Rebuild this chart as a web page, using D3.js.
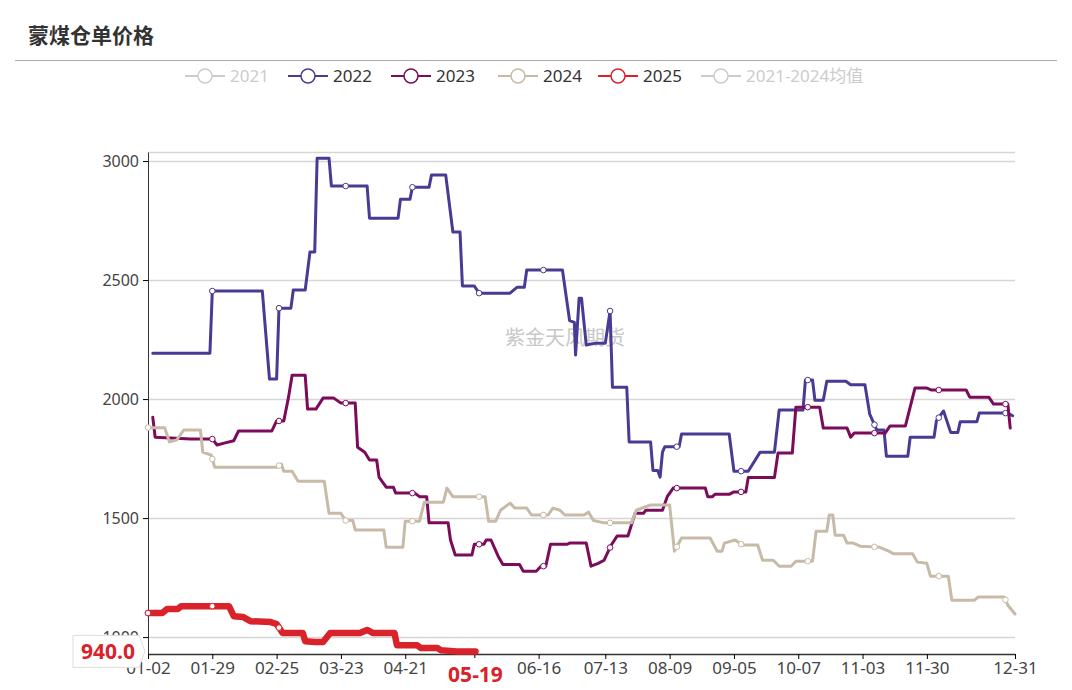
<!DOCTYPE html>
<html><head><meta charset="utf-8">
<script src="https://cdn.jsdelivr.net/npm/d3@7"></script>
<style>body{margin:0;background:#fff;font-family:"Noto Sans","Noto Sans CJK SC",sans-serif}</style>
</head><body><div id="chart"></div>
<script>
// x is a day index along the category axis (0 = 01-02, 364 = 12-31)
const tickIdx = [0, 27, 54, 81, 108, 137, 164, 192, 219, 246, 273, 300, 327, 364];
const tickLabels = ["01-02","01-29","02-25","03-23","04-21","05-19","06-16","07-13","08-09","09-05","10-07","11-03","11-30","12-31"];
const markerIdx = [0, 27, 55, 83, 111, 139, 166, 194, 222, 249, 277, 305, 332, 360];
const yTicks = [1000, 1500, 2000, 2500, 3000];

const s2022 = [[2,2193],[26,2193],[27,2454],[48,2454],[51,2084],[54,2084],[55,2382],[60,2382],[61,2458],[66,2458],[68,2618],[70,2618],[71,3012],[76,3012],[77,2895],[92,2895],[93,2760],[105,2760],[106,2840],[110,2840],[111,2890],[118,2890],[119,2941],[125,2941],[128,2702],[131,2702],[132,2475],[137,2475],[139,2445],[152,2445],[155,2470],[158,2470],[159,2542],[174,2542],[177,2330],[179,2322],[179.5,2185],[181,2424],[182,2424],[184,2227],[188,2235],[192,2235],[194,2370],[195,2050],[201,2050],[202,1820],[211,1820],[212,1700],[214,1700],[215,1672],[216,1777],[217,1800],[223,1800],[224,1853],[244,1853],[246,1697],[252,1697],[257,1777],[263,1777],[265,1954],[275,1954],[276,2080],[279,2080],[280,1995],[283.5,1995],[285,2075],[293,2075],[295,2060],[301,2060],[303,1937],[306,1870],[309,1870],[310,1760],[319,1760],[320,1840],[330,1840],[331,1908],[334,1950],[337,1860],[340,1860],[341,1905],[348,1905],[349,1941],[361,1941],[363,1930]];
const s2023 = [[2,1924],[3,1840],[18,1832],[27,1832],[29,1807],[32,1815],[36,1825],[38,1866],[52,1866],[54,1908],[57,1908],[59,2008],[60.5,2100],[66,2100],[67,1958],[70.5,1958],[73.5,2004],[78,2004],[81,1983],[87,1983],[88,1798],[91,1777],[93,1744],[96,1744],[97,1672],[100,1630],[103,1630],[104,1605],[112,1605],[114,1590],[117,1590],[118,1480],[126,1480],[127,1408],[129,1345],[136,1345],[137,1390],[141,1390],[142,1408],[144,1408],[147,1340],[149,1305],[156,1305],[157.5,1277],[163,1277],[165,1298],[167,1298],[169,1390],[176,1390],[177,1395],[184,1395],[186,1298],[189,1310],[191.5,1323],[194.5,1387],[197,1425],[201.5,1425],[204.5,1520],[208,1520],[209,1533],[216,1533],[218,1590],[220.5,1626],[234,1626],[235,1590],[237,1590],[238,1600],[244,1600],[246,1610],[251,1610],[252,1670],[263,1670],[264.5,1773],[270.5,1773],[272,1966],[282,1966],[283.5,1878],[293.5,1878],[295,1840],[296.5,1857],[309.5,1857],[311.5,1887],[318,1887],[322,2046],[327,2046],[329,2038],[343.5,2038],[345,2008],[353,2008],[355,1979],[361,1979],[362,1878]];
const s2024 = [[0,1880],[7,1880],[9,1820],[12,1828],[15,1870],[22,1870],[23,1777],[26.5,1765],[28,1714],[54,1714],[56,1727],[57,1697],[60.5,1697],[63,1655],[74,1655],[76,1520],[81,1520],[83,1490],[86,1490],[87,1450],[99,1450],[100,1378],[107,1378],[108,1487],[114,1487],[116,1567],[124,1567],[125.5,1626],[128,1590],[141.5,1590],[143,1487],[146,1487],[148,1533],[152,1563],[154,1542],[159,1542],[161,1513],[168,1513],[170,1542],[173,1533],[175,1513],[183,1513],[185,1525],[187,1490],[191.5,1480],[203,1480],[205,1533],[211,1555],[219,1555],[221,1361],[224,1416],[236,1416],[239,1361],[241,1361],[242,1395],[246.5,1408],[249.5,1387],[256,1387],[258,1323],[262.5,1323],[265,1298],[270,1298],[272,1319],[279,1319],[280.5,1445],[285,1445],[286,1513],[287.5,1513],[288.5,1428],[292,1428],[293.5,1395],[296,1395],[299,1382],[307,1378],[311,1361],[313,1350],[321,1350],[323,1315],[327,1310],[328.5,1256],[336,1256],[337.5,1155],[347,1155],[348.5,1168],[359.5,1168],[361,1134],[364,1097]];
const s2025 = [[0,1101],[6,1101],[8,1118],[12.5,1118],[14,1130],[34,1130],[36,1088],[40,1084],[43,1067],[51.5,1063],[54,1055],[56.5,1017],[65,1017],[66,983],[70,979],[73.5,979],[76.5,1017],[89,1017],[92,1030],[94.5,1017],[103.5,1017],[104.5,966],[113,966],[114.5,954],[121.5,954],[123,945],[129.5,940],[137.5,940]];

const legendNames = ["2021","2022","2023","2024","2025","2021-2024均值"];
const legendColors = ["#ccc","#4a3a94","#7d0b5b","#c7bba7","#d9222a","#ccc"];
const seriesList = [
  {data: s2022, color: "#4a3a94", width: 3},
  {data: s2023, color: "#7d0b5b", width: 3},
  {data: s2024, color: "#c7bba7", width: 3},
  {data: s2025, color: "#d9222a", width: 6.5}
];

const W = 1072, H = 690;
const svg = d3.select("#chart").append("svg").attr("width", W).attr("height", H);

svg.append("text").attr("x", 28).attr("y", 43).attr("font-size", 21).attr("font-weight", "bold")
  .attr("fill", "#333").text("蒙煤仓单价格");
svg.append("line").attr("x1", 15).attr("x2", 1057).attr("y1", 60.5).attr("y2", 60.5).attr("stroke", "#aaa");

// legend
const legX = [185, 288, 391, 498, 598, 701];
legendNames.forEach((n, i) => {
  const g = svg.append("g").attr("transform", `translate(${legX[i]},76)`);
  g.append("line").attr("x1", 0).attr("x2", 40).attr("stroke", legendColors[i]).attr("stroke-width", 2);
  g.append("circle").attr("cx", 20).attr("r", 7).attr("fill", "#fff").attr("stroke", legendColors[i]).attr("stroke-width", 1.5);
  g.append("text").attr("x", 45).attr("y", 6).attr("font-size", 17)
    .attr("fill", i === 0 || i === 5 ? "#ccc" : "#333").text(n);
});

const x = d3.scaleLinear().domain([0, 364]).range([148, 1015]);
const y = d3.scaleLinear().domain([929, 3038]).range([654, 152]);

// grid
svg.append("g").selectAll("line").data([...yTicks, 3038]).join("line")
  .attr("x1", 148).attr("x2", 1015).attr("y1", d => Math.round(y(d)) + 0.5).attr("y2", d => Math.round(y(d)) + 0.5)
  .attr("stroke", "#d6d6d6").attr("stroke-width", 1.5);

svg.append("text").attr("x", 565).attr("y", 345).attr("text-anchor", "middle").attr("font-size", 20)
  .attr("fill", "#c8c8c8").text("紫金天风期货");

const yAxis = svg.append("g").attr("transform", "translate(148,0)")
  .call(d3.axisLeft(y).tickValues(yTicks).tickFormat(d3.format("d")).tickSize(5).tickSizeOuter(0).tickPadding(4));
yAxis.select(".domain").attr("stroke", "#333");
yAxis.selectAll("text").attr("font-size", 16).attr("fill", "#444").attr("font-family", "Noto Sans");

const xAxis = svg.append("g").attr("transform", "translate(0,654)")
  .call(d3.axisBottom(x).tickValues(tickIdx).tickFormat((d, i) => tickLabels[i]).tickSize(5).tickSizeOuter(0).tickPadding(3));
xAxis.select(".domain").attr("stroke", "#333").attr("stroke-width", 1.5);
xAxis.selectAll("text").attr("font-size", 17).attr("fill", "#444").attr("font-family", "Noto Sans");

const line = d3.line().x(d => x(d[0])).y(d => y(d[1]));
function valueAt(data, t) {
  if (t < data[0][0] || t > data[data.length - 1][0]) return null;
  for (let i = 1; i < data.length; i++) {
    if (t <= data[i][0]) {
      const a = data[i - 1], b = data[i];
      return a[1] + (b[1] - a[1]) * (t - a[0]) / (b[0] - a[0] || 1);
    }
  }
  return null;
}

seriesList.forEach(s => {
  svg.append("path").datum(s.data).attr("d", line).attr("fill", "none")
    .attr("stroke", s.color).attr("stroke-width", s.width).attr("stroke-linejoin", "round").attr("stroke-linecap", "round");
  const marks = markerIdx.map(t => [t, valueAt(s.data, t)]).filter(d => d[1] !== null && !(s.data === s2025 && d[0] > 60));
  svg.append("g").selectAll("circle").data(marks).join("circle")
    .attr("cx", d => x(d[0])).attr("cy", d => y(d[1])).attr("r", 2.8)
    .attr("fill", "#fff").attr("stroke", s.color).attr("stroke-width", 1);
});

// current value label on y axis
const lastVal = s2025[s2025.length - 1][1];
const ly = y(lastVal);
const lab = svg.append("g");
lab.append("path").attr("d", `M73,${ly - 16}H139L145,${ly}L139,${ly + 16}H73Z`)
  .attr("fill", "#fff").attr("stroke", "#ddd");
lab.append("text").attr("x", 108).attr("y", ly + 8).attr("text-anchor", "middle").attr("font-size", 21)
  .attr("font-weight", "bold").attr("fill", "#d9222a").text(lastVal.toFixed(1));

// current date label on x axis
const lx = x(s2025[s2025.length - 1][0]);
const dl = svg.append("g");
dl.append("rect").attr("x", lx - 38).attr("y", 658).attr("width", 76).attr("height", 32).attr("fill", "#fff");
dl.append("text").attr("x", lx).attr("y", 682).attr("text-anchor", "middle").attr("font-size", 21)
  .attr("font-weight", "bold").attr("fill", "#d9222a").text(tickLabels[5]);
</script></body></html>
